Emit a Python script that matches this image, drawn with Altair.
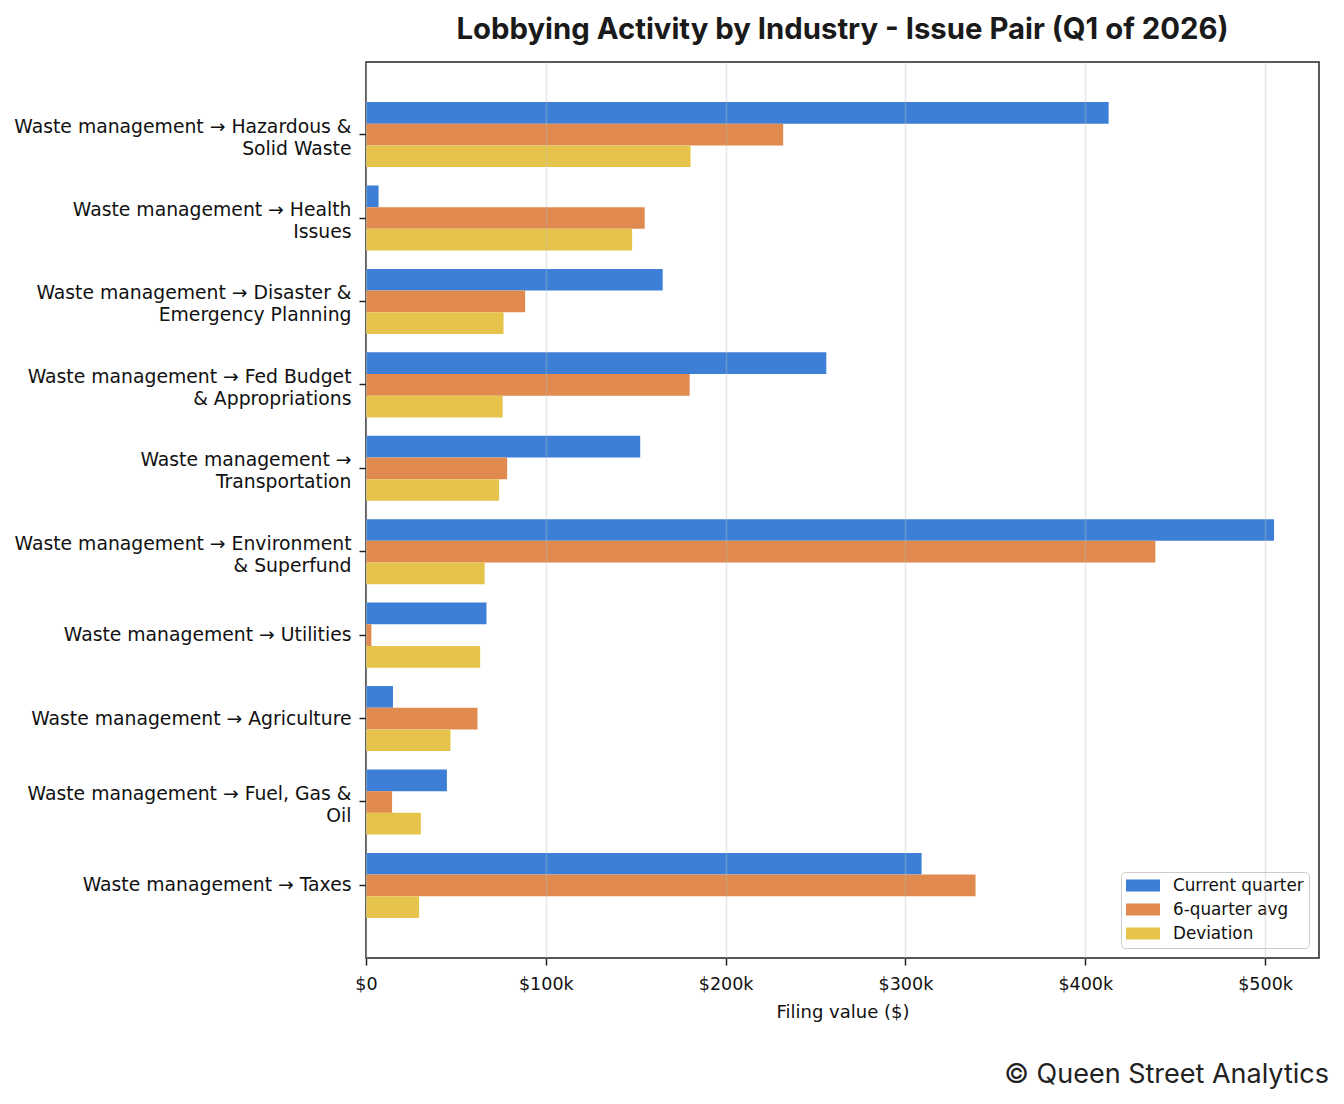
import altair as alt
import pandas as pd

categories = [
    "Waste management → Hazardous &\nSolid Waste",
    "Waste management → Health\nIssues",
    "Waste management → Disaster &\nEmergency Planning",
    "Waste management → Fed Budget\n& Appropriations",
    "Waste management →\nTransportation",
    "Waste management → Environment\n& Superfund",
    "Waste management → Utilities",
    "Waste management → Agriculture",
    "Waste management → Fuel, Gas &\nOil",
    "Waste management → Taxes",
]
series = ["Current quarter", "6-quarter avg", "Deviation"]
colors = ["#3d7fd7", "#e08a4f", "#e6c44b"]

current_quarter = [413000, 7000, 165000, 256000, 152500, 505000, 67000, 15000, 45000, 309000]
six_quarter_avg = [232000, 155000, 88500, 180000, 78500, 439000, 3000, 62000, 14500, 339000]
deviation = [180500, 148000, 76500, 76000, 74000, 66000, 63500, 47000, 30500, 29500]

rows = []
for i, c in enumerate(categories):
    for s, vals in zip(series, [current_quarter, six_quarter_avg, deviation]):
        rows.append({"category": c, "series": s, "value": vals[i]})
df = pd.DataFrame(rows)

W, H = 953, 896

bars = alt.Chart(df).mark_bar().encode(
    y=alt.Y("category:N", sort=categories,
            scale=alt.Scale(paddingInner=0.22, paddingOuter=0.48),
            axis=alt.Axis(title=None, labelExpr="split(datum.label, '\\n')",
                          labelFont="DejaVu Sans", labelFontSize=18.8,
                          labelLineHeight=22, labelColor="#111111",
                          labelOffset=alt.condition("indexof(datum.value, '\\n') >= 0",
                                                    alt.value(-8), alt.value(0)),
                          labelPadding=8, tickSize=7, tickWidth=1.5,
                          tickColor="#222222", domain=False, grid=False,
                          labelLimit=600)),
    yOffset=alt.YOffset("series:N", sort=series,
                        scale=alt.Scale(domain=series, paddingInner=0, paddingOuter=0)),
    x=alt.X("value:Q",
            scale=alt.Scale(domain=[0, 530000], nice=False, zero=True),
            axis=alt.Axis(title="Filing value ($)", values=[0, 100000, 200000, 300000, 400000, 500000],
                          labelExpr="datum.value == 0 ? '$0' : '$' + format(datum.value / 1000, 'd') + 'k'",
                          labelFont="DejaVu Sans", labelFontSize=17.5, labelColor="#111111",
                          labelFlush=False,
                          titleFont="DejaVu Sans", titleFontSize=18, titleFontWeight="normal",
                          titleColor="#111111", titlePadding=11, labelPadding=10,
                          tickSize=7, tickWidth=1.5, tickColor="#222222",
                          domain=False, grid=True, gridColor="#bbbbbb", gridOpacity=0.35,
                          gridWidth=1.5, zindex=1)),
    color=alt.Color("series:N", sort=series,
                    scale=alt.Scale(domain=series, range=colors),
                    legend=alt.Legend(title=None, orient="bottom-right", offset=10,
                                      labelFont="DejaVu Sans", labelFontSize=16.8,
                                      labelColor="#111111",
                                      symbolType="M-1,-0.7L3,-0.7L3,0.7L-1,0.7Z",
                                      symbolSize=289, symbolStrokeWidth=0,
                                      symbolOpacity=1,
                                      labelOffset=30, rowPadding=6,
                                      padding=5, fillColor="white",
                                      strokeColor="#cccccc", cornerRadius=4)),
)

footer_df = pd.DataFrame({"t": ["© Queen Street Analytics"]})
footer = alt.Chart(footer_df).mark_text(
    font="Inter", fontSize=27, align="right", baseline="middle", color="#222222"
).encode(text="t:N", x=alt.value(W + 10), y=alt.value(1013))

chart = alt.layer(bars, footer).properties(
    width=W, height=H, background="white",
    padding={"top": 7, "left": 5, "right": 5, "bottom": 5},
    title=alt.TitleParams("Lobbying Activity by Industry - Issue Pair (Q1 of 2026)",
                          font="Inter", fontSize=29.3, fontWeight="bold",
                          color="#1a1a1a", anchor="middle", offset=17),
).configure_view(stroke="#222222", strokeWidth=1.5)

chart.save("out.html", embed_options={"renderer": "svg", "actions": False})
